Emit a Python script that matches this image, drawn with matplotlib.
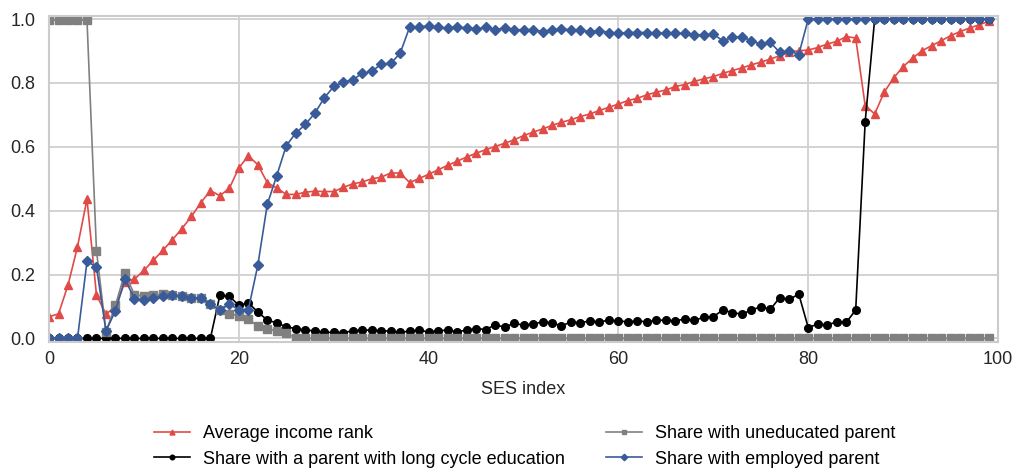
import matplotlib
matplotlib.use("Agg")
import matplotlib.pyplot as plt
import numpy as np

plt.rcParams['font.family'] = ['Liberation Sans', 'DejaVu Sans']

ses = np.arange(100)

income_rank = [
    0.068, 0.077, 0.167, 0.287, 0.436, 0.136, 0.076, 0.100, 0.177, 0.186,
    0.213, 0.245, 0.276, 0.309, 0.344, 0.382, 0.425, 0.463, 0.447, 0.470,
    0.534, 0.572, 0.544, 0.488, 0.471, 0.451, 0.451, 0.458, 0.461, 0.460,
    0.460, 0.473, 0.484, 0.490, 0.500, 0.505, 0.518, 0.518, 0.488, 0.501,
    0.514, 0.528, 0.542, 0.555, 0.568, 0.580, 0.591, 0.601, 0.611, 0.622,
    0.635, 0.646, 0.656, 0.667, 0.677, 0.685, 0.695, 0.703, 0.714, 0.724,
    0.734, 0.745, 0.752, 0.763, 0.771, 0.778, 0.789, 0.795, 0.805, 0.813,
    0.820, 0.830, 0.839, 0.847, 0.857, 0.865, 0.875, 0.885, 0.896, 0.901,
    0.903, 0.911, 0.922, 0.930, 0.945, 0.941, 0.729, 0.703, 0.771, 0.816,
    0.851, 0.878, 0.901, 0.917, 0.932, 0.948, 0.961, 0.972, 0.982, 0.993,
]

long_edu = [
    0, 0, 0, 0, 0, 0, 0, 0, 0, 0,
    0, 0, 0, 0, 0, 0, 0, 0, 0.135, 0.132,
    0.104, 0.111, 0.083, 0.057, 0.049, 0.036, 0.031, 0.026, 0.024, 0.019,
    0.019, 0.018, 0.024, 0.026, 0.026, 0.024, 0.023, 0.019, 0.023, 0.026,
    0.020, 0.024, 0.026, 0.021, 0.026, 0.031, 0.028, 0.042, 0.036, 0.047,
    0.042, 0.045, 0.052, 0.049, 0.039, 0.052, 0.049, 0.055, 0.052, 0.057,
    0.055, 0.052, 0.055, 0.052, 0.057, 0.057, 0.055, 0.061, 0.057, 0.066,
    0.068, 0.089, 0.081, 0.076, 0.089, 0.099, 0.091, 0.128, 0.122, 0.139,
    0.034, 0.045, 0.042, 0.052, 0.050, 0.089, 0.679, 1.0, 1.0, 1.0,
    1.0, 1.0, 1.0, 1.0, 1.0, 1.0, 1.0, 1.0, 1.0, 1.0,
]

uneducated = [
    0.997, 0.997, 0.997, 0.997, 0.997, 0.275, 0.021, 0.104, 0.206, 0.136,
    0.133, 0.135, 0.139, 0.137, 0.132, 0.127, 0.127, 0.107, 0.089, 0.078,
    0.070, 0.060, 0.039, 0.031, 0.023, 0.016, 0.002,
] + [0.0] * 73

employed = [
    0, 0, 0, 0, 0.241, 0.224, 0.023, 0.087, 0.185, 0.125,
    0.120, 0.127, 0.132, 0.135, 0.132, 0.127, 0.127, 0.107, 0.089, 0.107,
    0.090, 0.090, 0.229, 0.420, 0.510, 0.604, 0.643, 0.670, 0.705, 0.753,
    0.789, 0.802, 0.810, 0.830, 0.836, 0.859, 0.861, 0.893, 0.975, 0.975,
    0.979, 0.974, 0.972, 0.976, 0.972, 0.969, 0.974, 0.967, 0.972, 0.966,
    0.967, 0.967, 0.961, 0.966, 0.969, 0.966, 0.966, 0.960, 0.964, 0.958,
    0.956, 0.958, 0.958, 0.958, 0.956, 0.956, 0.955, 0.955, 0.951, 0.950,
    0.953, 0.932, 0.943, 0.945, 0.932, 0.922, 0.927, 0.896, 0.901, 0.889,
] + [1.0] * 20

labels = ["Average income rank", "Share with a parent with long cycle education",
          "Share with uneducated parent", "Share with employed parent"]

fig = plt.figure(figsize=(10.15, 4.68), dpi=100)
ax = fig.add_axes([0.0483, 0.270, 0.9350, 0.696])

ax.plot(ses, income_rank, color='#E04B47', marker='^', ms=6, lw=1.2, label=labels[0])
ax.plot(ses, long_edu, color='black', marker='o', ms=5.5, lw=1.2, label=labels[1])
ax.plot(ses, uneducated, color='#808080', marker='s', ms=5.5, lw=1.2, label=labels[2])
ax.plot(ses, employed, color='#3A5B9A', marker='D', ms=5.5, lw=1.2, label=labels[3])

ax.set_xlim(0, 100)
ax.set_ylim(-0.01, 1.01)
ax.set_xticks([0, 20, 40, 60, 80, 100])
ax.set_yticks([0, 0.2, 0.4, 0.6, 0.8, 1.0])
ax.set_yticklabels(['0.0', '0.2', '0.4', '0.6', '0.8', '1.0'])
ax.grid(True, color='#d0d0d0', lw=1.3)
ax.set_axisbelow(True)
for s in ax.spines.values():
    s.set_color('#cccccc')
    s.set_linewidth(1.5)
ax.tick_params(length=0, labelsize=13, colors='#262626')
ax.tick_params(axis='y', pad=10)
ax.tick_params(axis='x', pad=7)
ax.set_xlabel('SES index', fontsize=13, color='#262626', labelpad=9)

fig.legend(loc='upper center', bbox_to_anchor=(0.517, 0.091), ncol=2, frameon=False,
           fontsize=13, markerscale=0.6, handlelength=2.0, columnspacing=2.3,
           labelspacing=0.45, handletextpad=0.7, borderpad=0, borderaxespad=0)

fig.savefig('out.png', dpi=100)
